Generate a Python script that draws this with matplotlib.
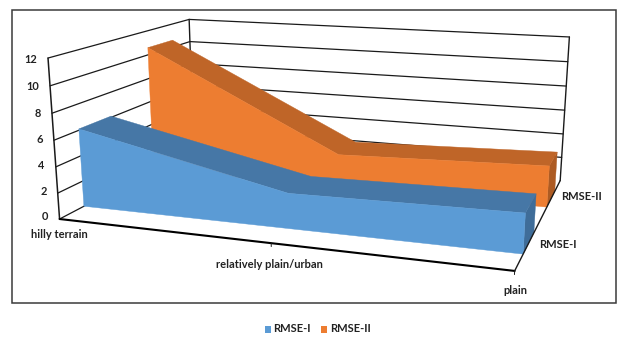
import numpy as np
import matplotlib
matplotlib.use("Agg")
import matplotlib.pyplot as plt
from matplotlib.patches import Polygon, Rectangle

categories = ["hilly terrain", "relatively plain/urban", "plain"]
series_names = ["RMSE-I", "RMSE-II"]
rmse_1 = [6.1, 2.65, 2.9]
rmse_2 = [10.6, 2.75, 3.27]
y_ticks = [0, 2, 4, 6, 8, 10, 12]

# series lanes along the depth axis
depth_1 = (0.15, 0.36)
depth_2 = (0.65, 0.85)

BLUE = ("#5B9BD5", "#4677A6", "#3F6D99")
ORANGE = ("#ED7D31", "#BF6528", "#AD5B23")
INK = "#1a1a1a"
FONT = "Lato"

# box anchors in pixels: (cat position 0..2, depth 0..1, value 0..12) -> pixel
anchors = [
    ((0, 0, 12), (48.3, 59.3)),
    ((0, 0, 0), (59.0, 216.0)),
    ((2, 0, 0), (515.0, 273.0)),
    ((2, 1, 0), (560.0, 178.0)),
    ((2, 1, 12), (569.3, 38.0)),
    ((0, 1, 12), (189.0, 17.5)),
    ((0, 1, 0), (194.0, 152.0)),
]
A, b = [], []
for (x, d, z), (u, v) in anchors:
    A.append([x, d, z, 1, 0, 0, 0, 0, -u * x, -u * d, -u * z]); b.append(u)
    A.append([0, 0, 0, 0, x, d, z, 1, -v * x, -v * d, -v * z]); b.append(v)
p = np.linalg.lstsq(np.array(A, float), np.array(b, float), rcond=None)[0]
P = np.append(p, 1.0).reshape(3, 4)


def proj(x, d, z):
    h = P @ np.array([x, d, z, 1.0])
    return h[0] / h[2], h[1] / h[2]


fig = plt.figure(figsize=(6.17, 3.43), dpi=100)
ax = fig.add_axes([0, 0, 1, 1])
ax.set_xlim(0, 617)
ax.set_ylim(343, 0)
ax.axis("off")

ax.add_patch(Rectangle((11.5, 9.5), 604, 293, fill=False, ec="#3a3a3a", lw=1.1))


def line(a, b, lw=1.0, c=INK, z=2):
    pa, pb = proj(*a), proj(*b)
    ax.plot([pa[0], pb[0]], [pa[1], pb[1]], color=c, lw=lw, zorder=z, solid_capstyle="round")


for t in y_ticks:
    if t > 0:
        line((0, 0, t), (0, 1, t), 0.9)
        line((0, 1, t), (2, 1, t), 0.9)
    px, py = proj(0, 0, t)
    ax.text(px - 11, py + 1 - 3.5 * (1 - t / 12), str(t), ha="right", va="center",
            fontsize=7.9, family=FONT, fontweight="bold", color="#222222")
line((0, 0, 0), (0, 0, 12), 1.1)
line((0, 1, 0), (0, 1, 12), 1.0)
line((2, 1, 0), (2, 1, 12), 1.0)
line((0, 0, 0), (0, 1, 0), 0.9)
line((0, 0, 0), (2, 0, 0), 1.5, "#000000", 6)
line((2, 0, 0), (2, 1, 0), 1.0, INK, 6)
line((1, 0, 0), (1, 0, -0.25), 0.7, INK, 6)
line((2, 0, 0), (2, 0, -0.25), 0.7, INK, 6)


def band(values, depth, cols, z):
    d0, d1 = depth
    xs = range(len(values))
    front = [proj(x, d0, v) for x, v in zip(xs, values)]
    front_base = [proj(x, d0, 0) for x in xs]
    back = [proj(x, d1, v) for x, v in zip(xs, values)]
    last = len(values) - 1
    side = [proj(last, d0, values[last]), proj(last, d1, values[last]),
            proj(last, d1, 0), proj(last, d0, 0)]
    ax.add_patch(Polygon(side, fc=cols[2], ec=cols[2], lw=0.3, zorder=z))
    ax.add_patch(Polygon(front + back[::-1], fc=cols[1], ec=cols[1], lw=0.3, zorder=z + 0.1))
    ax.add_patch(Polygon(front + front_base[::-1], fc=cols[0], ec=cols[0], lw=0.3, zorder=z + 0.2))


band(rmse_2, depth_2, ORANGE, 3)
band(rmse_1, depth_1, BLUE, 4)

txt = dict(fontsize=8, family=FONT, fontweight="bold", color="#222222", va="center")
ax.text(59, 234, categories[0], ha="center", **txt)
ax.text(269.5, 264, categories[1], ha="center", **txt)
ax.text(515, 290, categories[2], ha="center", **txt)
ax.text(539, 245, series_names[0], ha="left", **txt)
ax.text(561, 197, series_names[1], ha="left", **txt)

ax.add_patch(Rectangle((264.5, 326), 6.5, 6.5, fc=BLUE[0], ec="none"))
ax.text(273.5, 329, series_names[0], ha="left", **txt)
ax.add_patch(Rectangle((320.5, 326), 6.5, 6.5, fc=ORANGE[0], ec="none"))
ax.text(330, 329, series_names[1], ha="left", **txt)

fig.savefig("out.png", dpi=100)
